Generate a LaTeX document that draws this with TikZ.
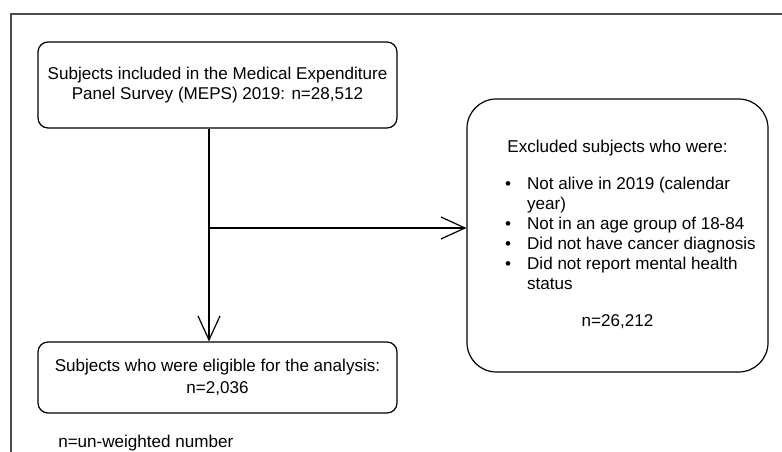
\documentclass[tikz,border=0pt]{standalone}
\usepackage{fontspec}
\setmainfont{Liberation Sans}
\usetikzlibrary{arrows.meta}

\tikzset{
  flowbox/.style={draw, rounded corners=7.5pt, line width=0.9pt, align=center, inner sep=0pt, minimum width=269.25pt},
  exclbox/.style={draw, rounded corners=22pt, line width=0.9pt, inner sep=0pt, minimum width=225.75pt, minimum height=204.75pt},
  openarrow/.style={line width=0.9pt, -{Straight Barb[length=18pt,width=16.5pt]}},
}

\begin{document}
\begin{tikzpicture}[x=0.75pt,y=0.75pt,yscale=-1,xscale=1, font=\fontsize{12.8}{15}\selectfont]
      \useasboundingbox (0,0) rectangle (782,452);

      %Frame
      \draw [line width=1.4pt, black!70] (11,452) -- (11,14) -- (782,14) ;

      %Rounded Rect
      \node [flowbox, minimum height=64.5pt] (incl) at (217.5,85) {Subjects included in the Medical Expenditure\\Panel Survey (MEPS) 2019: n=28,512};
      %Rounded Rect
      \node [flowbox, minimum height=53.25pt] (elig) at (217.5,377.5) {Subjects who were eligible for the analysis:\\[1pt]n=2,036};
      %Rounded Rect
      \node [exclbox] (excl) at (617.5,235.5) {%
        \begin{tabular}{@{\hspace{19.5pt}}l@{\hspace{12pt}}l@{}}
          \multicolumn{2}{@{}c@{}}{Excluded subjects who were:}\\[12.75pt]
          \textbullet & Not alive in 2019 (calendar\\
                      & year)\\
          \textbullet & Not in an age group of 18-84\\
          \textbullet & Did not have cancer diagnosis\\
          \textbullet & Did not report mental health\\
                      & status\\[12.75pt]
          \multicolumn{2}{@{}c@{}}{n=26,212}
        \end{tabular}};

      %Straight Lines
      \coordinate (split) at (209,228);
      \draw [line width=0.9pt] (incl.south -| split) -- (split) ;
      \draw [openarrow] (split) -- (split |- elig.north) ;
      \draw [openarrow] (split) -- (split -| excl.west) ;

      % Text Node
      \node [anchor=west, inner sep=0pt] (note) at (58,443) {n=un-weighted number};
\end{tikzpicture}
\end{document}
